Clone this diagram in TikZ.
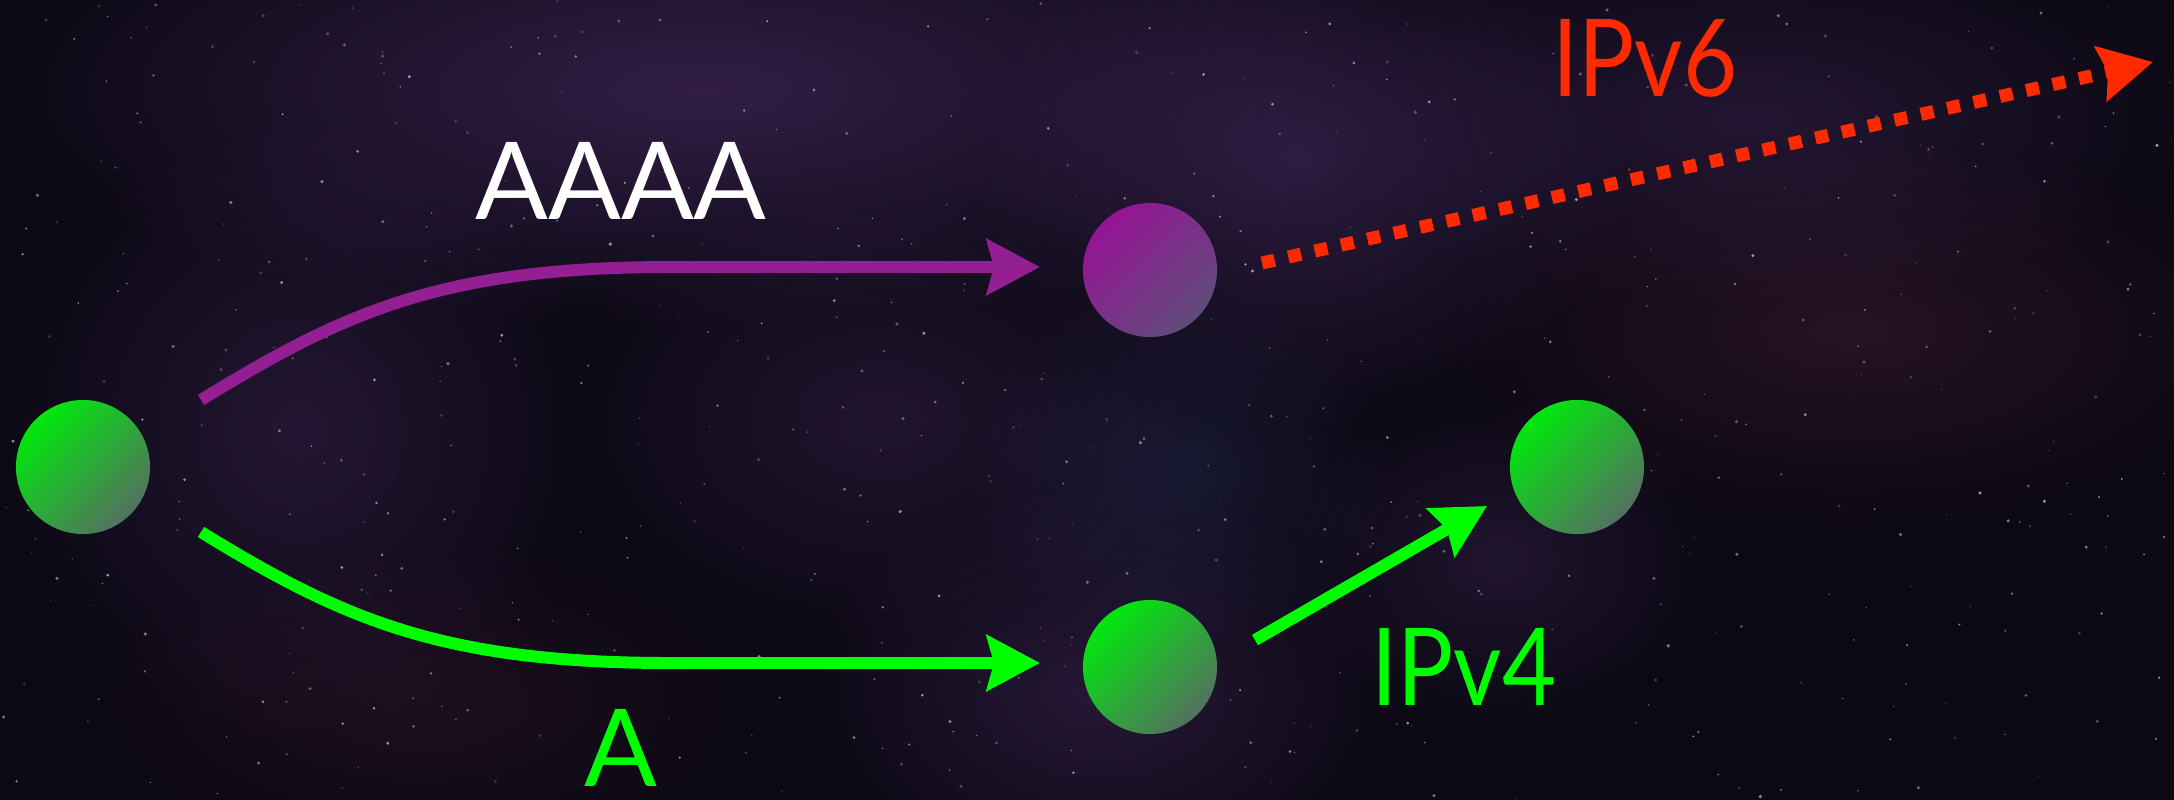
\documentclass[tikz,border=0pt]{standalone}
\usepackage{fontspec}
\setmainfont{Lato}
\usetikzlibrary{arrows.meta,calc,fadings}

\definecolor{spacebg}{HTML}{0C0914}
\definecolor{haze}{HTML}{52306F}
\definecolor{hazeblue}{HTML}{2C3260}
\definecolor{hazered}{HTML}{52203F}
\definecolor{linkpurple}{HTML}{931F93}
\definecolor{linkgreen}{HTML}{00FF00}
\definecolor{linkred}{HTML}{FF2A00}
\definecolor{gtop}{RGB}{0,232,12}
\definecolor{gbot}{RGB}{84,112,96}
\definecolor{ptop}{RGB}{150,20,150}
\definecolor{pbot}{RGB}{96,76,122}

\tikzfading[name=softblob, inner color=transparent!15, outer color=transparent!100]

\tikzset{
  dot/.style={circle, inner sep=0pt, minimum size=1.34cm},
  gnode/.style={dot, top color=gtop, bottom color=gbot, shading angle=45},
  pnode/.style={dot, top color=ptop, bottom color=pbot, shading angle=45},
  tipshape/.style={-{Stealth[length=0.53cm, width=0.55cm, inset=0.07cm]}},
  link/.style={line width=3.4pt, line cap=butt, tipshape},
  lbl/.style={anchor=base, inner sep=0pt, font=\fontsize{30.6}{36}\selectfont},
  narrowlbl/.style={lbl, xscale=0.87},
  blob/.style={fill=#1, path fading=softblob}
}

\begin{document}
\begin{tikzpicture}[x=0.01cm, y=-0.01cm]
  % night sky
  \fill[spacebg] (0,0) rectangle (2174,800);
  \useasboundingbox (0,0) rectangle (2174,800);

  % nebula haze
  \fill[blob=haze, opacity=0.65] (700,90) ellipse (720 and 240);
  \fill[blob=haze, opacity=0.55] (1300,160) ellipse (330 and 270);
  \fill[blob=haze, opacity=0.40] (1750,120) ellipse (450 and 190);
  \fill[blob=hazered, opacity=0.45] (1850,330) ellipse (420 and 200);
  \fill[blob=haze, opacity=0.45] (1100,690) ellipse (300 and 210);
  \fill[blob=hazeblue, opacity=0.45] (1180,470) ellipse (220 and 190);
  \fill[blob=haze, opacity=0.40] (300,430) ellipse (300 and 320);
  \fill[blob=haze, opacity=0.35] (880,420) ellipse (330 and 230);
  \fill[blob=hazered, opacity=0.30] (420,700) ellipse (340 and 160);
  \fill[blob=haze, opacity=0.35] (1500,560) ellipse (220 and 170);

  % stars
  \pgfmathsetseed{4242}
  \foreach \i in {1,...,560}{
    \pgfmathsetmacro{\sx}{rnd*2174}
    \pgfmathsetmacro{\sy}{rnd*800}
    \pgfmathsetmacro{\sr}{0.6+rnd*1.2}
    \pgfmathsetmacro{\so}{0.15+rnd*0.45}
    \fill[white, opacity=\so] (\sx,\sy) circle[radius=\sr];
  }

  % hosts
  \node[gnode] (L) at (83,467) {};
  \node[pnode] (P) at (1150,270) {};
  \node[gnode] (B) at (1150,667) {};
  \node[gnode] (R) at (1577,467) {};
  \coordinate (far) at (2153,62);

  % lookups
  \draw[link, linkpurple]
    ($(L)+(118,-67)$) .. controls +(140,-86) and +(-230,0) .. ($(P)+(-480,-3)$)
    -- ($(P)+(-110,-3)$);
  \draw[link, linkgreen]
    ($(L)+(118,65)$) .. controls +(140,86) and +(-230,0) .. ($(B)+(-480,-4)$)
    -- ($(B)+(-110,-4)$);

  % connections
  \draw[link, linkgreen] ($(B)+(105,-27)$) -- ($(R)+(-90,39)$);
  \draw[link, linkred, line width=3.7pt, dash pattern=on 0.13cm off 0.14cm]
    ($(P)+(112,-7)$) -- (far);

  % labels
  \node[lbl, text=white] (aaaa) at (621,219) {AAAA};
  \node[lbl, text=linkgreen] (a) at (621,786) {A};
  \node[narrowlbl, text=linkgreen] (v4) at (1464,705) {IPv4};
  \node[narrowlbl, text=linkred] (v6) at (1645,97) {IPv6};
\end{tikzpicture}
\end{document}
